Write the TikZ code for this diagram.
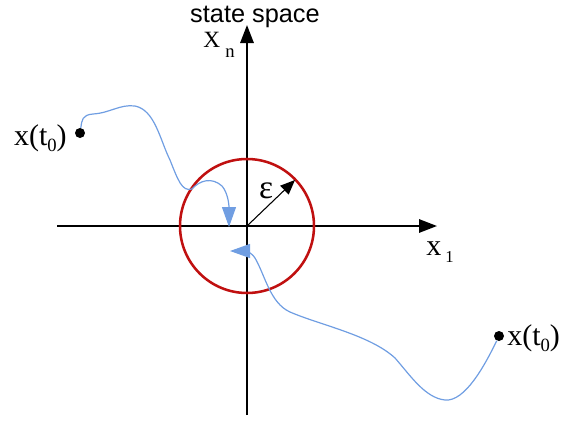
\documentclass[tikz,border=0pt]{standalone}
\usepackage{fontspec}
\setmainfont{Liberation Serif}
\newfontfamily\sansfam{Liberation Sans}
\usetikzlibrary{arrows.meta}
\definecolor{ballred}{RGB}{192,16,16}
\definecolor{trajblue}{RGB}{112,158,226}
\newcommand{\lowsub}[3]{\raisebox{-#1}{\fontsize{#2}{#2}\selectfont #3}}

\begin{document}
\begin{tikzpicture}[x=0.75pt, y=-0.75pt,
  lbl/.style={inner sep=0pt, font=\fontsize{22.5}{26}\selectfont},
  axis/.style={line width=1.5pt, -{Triangle[length=13.5pt,width=10pt]}},
  traj/.style={trajblue, line width=0.9pt, -{Triangle[length=15pt,width=10.5pt]}},
  dot/.style={circle, fill=black, inner sep=0pt, minimum size=7.5pt}]
  \useasboundingbox (0,0) rectangle (561,422);
  % axes
  \coordinate (O) at (247,226);
  \coordinate (w) at (57,226);
  \coordinate (e) at (437,226);
  \coordinate (s) at (247,415);
  \coordinate (n) at (247,25);
  \draw[axis] (w) -- (e);
  \draw[axis] (s) -- (n);
  \node[anchor=base, inner sep=0pt, font=\sansfam\fontsize{19}{22}\selectfont] (title) at (255,22) {state space};
  \node[anchor=base west, inner sep=0pt, font=\fontsize{17.5}{20}\selectfont] (xn) at (203,47) {X\hspace{4pt}\lowsub{8pt}{14}{n}};
  \node[lbl, anchor=base west] (x1) at (426,255) {x\hspace{3pt}\lowsub{5.5pt}{12.5}{1}};
  % epsilon ball
  \draw[ballred, line width=1.9pt] (O) circle[radius=67];
  \coordinate (rim) at (295,180);
  \draw[line width=0.8pt, -{Triangle[length=11pt,width=9pt]}] (O) -- (rim);
  \node[lbl, font=\fontsize{25}{28}\selectfont, anchor=base] (eps) at (266,198) {ε};
  % starting points
  \node[dot] (p0a) at (80,133) {};
  \node[dot] (p0b) at (499,336) {};
  \node[lbl, anchor=base east] (t0a) at (67,145) {x(t\lowsub{5pt}{14}{0})};
  \node[lbl, anchor=base west] (t0b) at (507,345) {x(t\lowsub{5pt}{14}{0})};
  % trajectories
  \coordinate (e1) at (229,227);
  \coordinate (e2) at (230,251);
  \draw[traj] (p0a) .. controls (82,120) and (82,115) .. (93,114)
    .. controls (110,113) and (120,104) .. (135,106)
    .. controls (155,110) and (160,140) .. (170,160)
    .. controls (178,180) and (182,192) .. (192,189)
    .. controls (200,180) and (212,177) .. (222,186)
    .. controls (228,193) and (229,205) .. (e1);
  \draw[traj] (p0b) .. controls (485,365) and (465,402) .. (445,400)
    .. controls (425,398) and (410,375) .. (395,358)
    .. controls (370,335) and (320,325) .. (290,312)
    .. controls (270,303) and (265,275) .. (255,258)
    .. controls (251,252) and (245,251) .. (e2);
\end{tikzpicture}
\end{document}
